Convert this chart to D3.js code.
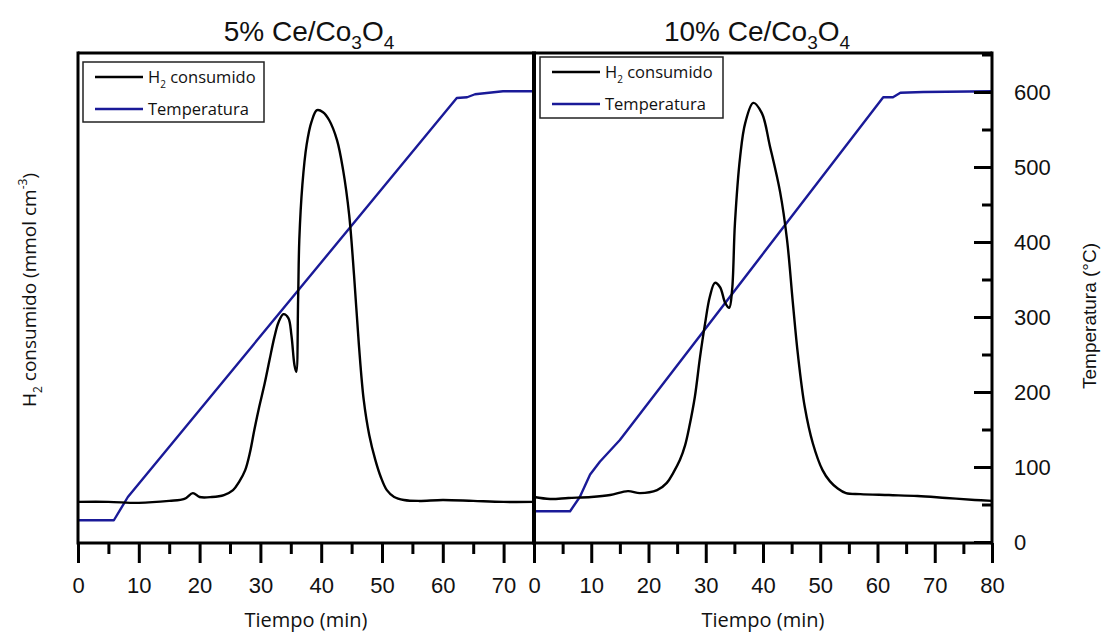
<!DOCTYPE html>
<html><head><meta charset="utf-8">
<script src="https://cdn.jsdelivr.net/npm/d3@7"></script>
<style>body{margin:0;background:#fff}svg{display:block}</style>
</head><body>
<svg id="c" width="1101" height="636"></svg>
<script>
// ---- data ----
const titles = ["5% Ce/Co", "10% Ce/Co"];
const xTicksLeft = [0,10,20,30,40,50,60,70];
const xTicksRight = [0,10,20,30,40,50,60,70,80];
const tempTicks = [0,100,200,300,400,500,600];

// 5% panel: H2 consumption (a.u.)
const h2TimeA = [0,5,10,15,17.5,18.9,20,22,24,25.5,26.5,27.5,28.3,29,29.8,30.7,31.5,32.3,33,33.8,34.6,35.1,35.6,35.9,36.2,36.4,36.9,37.6,38.4,39.3,40.3,41.3,42.6,43.6,44.6,45.4,46.2,47,47.9,48.9,49.8,50.8,52,53.6,56,60,65,70,75];
const h2ValA  = [8.2,8.2,8.0,8.4,8.8,10.0,9.2,9.2,9.6,10.6,12.3,14.7,18.4,22.9,27.6,32.4,37.2,41.9,45.0,46.6,45.8,42.3,36.2,34.8,49.5,61.8,73,81.2,85.9,88.3,87.9,86.3,82.2,76.1,66.9,54.6,40.3,29.0,21.9,16.8,13.3,10.6,9.2,8.6,8.4,8.6,8.4,8.2,8.2];
// 5% panel: temperature (°C)
const tempTimeA = [0,5.9,8.2,62.3,64.0,65.3,69.9,75];
const tempValA  = [29,29,60,592,593,597,601,601];

// 10% panel: H2 consumption (a.u.)
const h2TimeB = [0,2.8,6,10,13.3,16.4,18.5,21.5,23.2,24.3,25.5,26.4,27.1,28.1,29,29.9,30.7,31.6,32.5,33.4,34.1,34.6,35.1,36,36.9,38.3,39.8,41.2,43,44.2,45.2,46.1,47.3,48.7,50.4,51.7,53,54.5,57,62,67,72,77,80];
const h2ValB  = [9.2,8.8,9.0,9.2,9.6,10.4,10.0,10.6,12.1,14.1,16.8,19.8,23.4,29.7,37.8,44.8,50.1,53.0,52.1,48.9,47.9,51.5,65.2,78.7,85.7,89.8,87.7,81.0,71.5,61.8,49.1,38.3,27.6,20.2,14.7,12.4,11.0,10.0,9.8,9.6,9.4,9.0,8.6,8.4];
// 10% panel: temperature (°C)
const tempTimeB = [0,6.3,8,9.8,11.5,15,61,62.7,64,68,80];
const tempValB  = [41,41,60,90,107,136,593,593,599,600,601];

// ---- layout ----
const svg = d3.select("#c");
const yTop = 53, yBot = 543;
const xA = d3.scaleLinear().domain([0,75]).range([78,534]);
const xB = d3.scaleLinear().domain([0,80]).range([534,992]);
const yT = d3.scaleLinear().domain([0,652]).range([542,yTop]);
const yH = d3.scaleLinear().domain([0,100]).range([542,yTop]);
const blue = "#1a1a98";
const numFont = "'Liberation Sans', Arial, sans-serif";
const txtFont = "'Open Sans', 'Noto Sans', sans-serif";

function panel(x, tTime, tVal, hTime, hVal){
  const tl = d3.line().x((d,i)=>x(tTime[i])).y(d=>yT(d));
  svg.append("path").attr("d", tl(tVal)).attr("fill","none")
    .attr("stroke",blue).attr("stroke-width",2.4).attr("stroke-linejoin","round");
  const hl = d3.line().x((d,i)=>x(hTime[i])).y(d=>yH(d)).curve(d3.curveCatmullRom.alpha(0.5));
  svg.append("path").attr("d", hl(hVal)).attr("fill","none")
    .attr("stroke","#000").attr("stroke-width",2.4).attr("stroke-linejoin","round");
}
panel(xA, tempTimeA, tempValA, h2TimeA, h2ValA);
panel(xB, tempTimeB, tempValB, h2TimeB, h2ValB);

// frame
const fr = svg.append("g").attr("stroke","#000").attr("fill","none");
fr.append("line").attr("x1",78).attr("x2",992).attr("y1",yTop).attr("y2",yTop).attr("stroke-width",3);
fr.append("line").attr("x1",78).attr("x2",78).attr("y1",yTop-1.5).attr("y2",yBot+1.5).attr("stroke-width",3);
fr.append("line").attr("x1",534).attr("x2",534).attr("y1",yTop-1.5).attr("y2",yBot+1.5).attr("stroke-width",4);
fr.append("line").attr("x1",992).attr("x2",992).attr("y1",yTop-1.5).attr("y2",yBot+1.5).attr("stroke-width",3);
fr.append("line").attr("x1",78).attr("x2",992).attr("y1",yBot).attr("y2",yBot).attr("stroke-width",3);

function styleAxis(g){
  g.select(".domain").remove();
  g.selectAll(".tick line").attr("stroke","#000").attr("stroke-width",3);
  g.selectAll("text").attr("font-family",numFont).attr("font-size",22).attr("fill","#111");
}
// bottom axes
function bottomAxis(x, majors, maxV){
  const minors = d3.range(5, maxV, 10);
  svg.append("g").attr("transform",`translate(0,${yBot})`)
    .call(d3.axisBottom(x).tickValues(minors).tickSizeInner(11).tickSizeOuter(0).tickFormat(""))
    .call(styleAxis);
  svg.append("g").attr("transform",`translate(0,${yBot})`)
    .call(d3.axisBottom(x).tickValues(majors).tickSizeInner(20).tickSizeOuter(0).tickPadding(14).tickFormat(d3.format("d")))
    .call(styleAxis);
}
bottomAxis(xA, xTicksLeft, 75);
bottomAxis(xB, xTicksRight, 80);

// right temperature axis (ticks inward)
svg.append("g").attr("transform","translate(992,0)")
  .call(d3.axisRight(yT).tickValues(d3.range(50,651,100)).tickSizeInner(-10).tickSizeOuter(0).tickFormat(""))
  .call(styleAxis);
svg.append("g").attr("transform","translate(992,0)")
  .call(d3.axisRight(yT).tickValues(tempTicks).tickSizeInner(-18).tickSizeOuter(0).tickPadding(22).tickFormat(d3.format("d")))
  .call(styleAxis);

// titles
function chemTitle(cx, prefix){
  const t = svg.append("text").attr("x",cx).attr("y",41).attr("text-anchor","middle")
    .attr("font-family",numFont).attr("font-size",28).attr("fill","#111");
  t.append("tspan").text(prefix);
  t.append("tspan").attr("font-size",19).attr("dy",8).text("3");
  t.append("tspan").attr("dy",-8).text("O");
  t.append("tspan").attr("font-size",19).attr("dy",8).text("4");
}
chemTitle(309, titles[0]);
chemTitle(757, titles[1]);

// axis titles
svg.append("text").attr("x",xA(37.5)).attr("y",627).attr("text-anchor","middle")
  .attr("font-family",txtFont).attr("font-size",20).attr("fill","#111").text("Tiempo (min)");
svg.append("text").attr("x",xB(40)).attr("y",627).attr("text-anchor","middle")
  .attr("font-family",txtFont).attr("font-size",20).attr("fill","#111").text("Tiempo (min)");

const yl = svg.append("text").attr("transform","translate(36,290) rotate(-90)").attr("text-anchor","middle")
  .attr("font-family",txtFont).attr("font-size",19).attr("fill","#111");
yl.append("tspan").text("H");
yl.append("tspan").attr("font-size",12).attr("dy",6).text("2");
yl.append("tspan").attr("dy",-6).text(" consumido (mmol cm");
yl.append("tspan").attr("font-size",12).attr("dy",-9).text("-3");
yl.append("tspan").attr("dy",9).text(")");

svg.append("text").attr("transform","translate(1096,316) rotate(-90)").attr("text-anchor","middle")
  .attr("font-family",numFont).attr("font-size",19).attr("fill","#111").text("Temperatura (°C)");

// legends
function legend(x0, y0, w, h){
  const g = svg.append("g");
  g.append("rect").attr("x",x0).attr("y",y0).attr("width",w).attr("height",h)
    .attr("fill","#fff").attr("stroke","#222").attr("stroke-width",1.5);
  const r1 = y0 + 15, r2 = y0 + 47;
  g.append("line").attr("x1",x0+12).attr("x2",x0+60).attr("y1",r1).attr("y2",r1).attr("stroke","#000").attr("stroke-width",2.4);
  g.append("line").attr("x1",x0+12).attr("x2",x0+60).attr("y1",r2).attr("y2",r2).attr("stroke",blue).attr("stroke-width",2.4);
  const t1 = g.append("text").attr("x",x0+65).attr("y",r1+6).attr("font-family",txtFont).attr("font-size",16.5).attr("fill","#111");
  t1.append("tspan").text("H");
  t1.append("tspan").attr("font-size",10).attr("dy",5).text("2");
  t1.append("tspan").attr("dy",-5).text(" consumido");
  g.append("text").attr("x",x0+65).attr("y",r2+6).attr("font-family",txtFont).attr("font-size",16.5).attr("fill","#111").text("Temperatura");
}
legend(83, 62, 181, 60);
legend(540, 57, 183, 61);
</script>
</body></html>
